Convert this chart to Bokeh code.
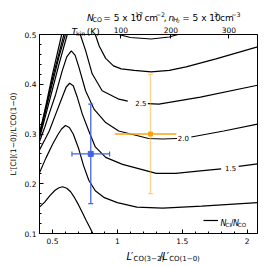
import math
from bokeh.plotting import figure
from bokeh.layouts import column
from bokeh.models import (Range1d, LinearAxis, FixedTicker, SingleIntervalTicker,
                          Legend, LegendItem, ColumnDataSource)
from bokeh.embed import file_html
from bokeh.resources import INLINE
from bokeh.core.properties import value

nan = float("nan")

# ---------------- data ----------------
ratio_05_x = [0.40, 0.44, 0.48, 0.52, 0.55, 0.578, 0.61, 0.64, 0.67, 0.70, 0.73, 0.76, 0.79, 0.82]
ratio_05_y = [0.153, 0.163, 0.176, 0.187, 0.192, 0.194, 0.191, 0.184, 0.172, 0.158, 0.142, 0.126, 0.111, 0.095]

ratio_10_x = [0.40, 0.45, 0.50, 0.54, 0.57, 0.60, 0.63, 0.66, 0.70, 0.74, 0.78, 0.83, 0.90, 1.00, 1.15, 1.35, 1.65, 2.08]
ratio_10_y = [0.222, 0.252, 0.279, 0.298, 0.310, 0.317, 0.313, 0.300, 0.272, 0.236, 0.207, 0.186, 0.172, 0.162, 0.153, 0.151, 0.155, 0.162]

ratio_15_x = [0.40, 0.44, 0.475, 0.525, 0.575, 0.605, 0.632, 0.66, 0.69, 0.73, 0.78, 0.83, 0.91, 1.04, 1.17, 1.30, 1.45, 1.64, 1.80, nan, 1.935, 2.08]
ratio_15_y = [0.268, 0.288, 0.306, 0.340, 0.374, 0.394, 0.402, 0.397, 0.375, 0.340, 0.306, 0.274, 0.253, 0.239, 0.230, 0.221, 0.221, 0.226, 0.230, nan, 0.235, 0.240]

ratio_20_x = [0.40, 0.44, 0.48, 0.525, 0.575, 0.61, 0.645, 0.675, 0.704, 0.755, 0.82, 0.91, 1.01, 1.165, 1.24, 1.35, 1.46, nan, 1.57, 1.82, 2.08]
ratio_20_y = [0.285, 0.313, 0.345, 0.380, 0.427, 0.455, 0.467, 0.458, 0.434, 0.387, 0.350, 0.323, 0.306, 0.296, 0.291, 0.290, 0.291, nan, 0.294, 0.306, 0.320]

ratio_25_x = [0.40, 0.45, 0.50, 0.55, 0.614, 0.665, 0.714, 0.755, 0.806, 0.883, 1.012, 1.08, nan, 1.235, 1.32, 1.64, 2.08]
ratio_25_y = [0.292, 0.340, 0.390, 0.440, 0.500, 0.520, 0.500, 0.468, 0.421, 0.387, 0.370, 0.366, nan, 0.361, 0.360, 0.374, 0.398]

ratio_30_x = [0.40, 0.45, 0.50, 0.55, 0.60, 0.70, 0.83, 0.86, 0.91, 0.97, 1.03, 1.13, 1.26, 1.40, 1.53, 1.76, 2.08]
ratio_30_y = [0.296, 0.349, 0.403, 0.455, 0.500, 0.560, 0.500, 0.477, 0.452, 0.437, 0.431, 0.428, 0.425, 0.428, 0.435, 0.451, 0.475]

ratio_35_x = [0.40, 0.45, 0.50, 0.588, 0.80, 0.98, 1.10, 1.26, 1.40, 1.48, 1.70]
ratio_35_y = [0.299, 0.354, 0.412, 0.500, 0.600, 0.502, 0.494, 0.491, 0.495, 0.501, 0.520]

ratio_40_x = [0.40, 0.45, 0.50, 0.571, 0.70]
ratio_40_y = [0.301, 0.358, 0.420, 0.500, 0.650]

label_x = [1.181, 1.508, 1.873]
label_y = [0.362, 0.292, 0.232]
label_text = ["2.5", "2.0", "1.5"]

blue_x = [0.795]
blue_y = [0.26]
blue_xerr = [0.145]
blue_yerr = [0.10]

orange_x = [1.255]
orange_y = [0.30]
orange_xerr_lo = [0.275]
orange_xerr_hi = [0.20]
orange_yerr = [0.12]

tkin_tick_pos = [1.027, 1.412, 1.86]
tkin_tick_labels = ["100", "200", "300"]

y_axis_title = "L\u2032[CI](1\u22120)/L\u2032CO(1\u22120)"

# ---------------- layout ----------------
W, H = 266, 266
FL, FR, FT, FB = 39, 9, 34, 33
X0, X1, Y0, Y1 = 0.4, 2.08, 0.1, 0.5
FONT = "DejaVu Sans"

p = figure(width=W, height=H, x_range=Range1d(X0, X1), y_range=Range1d(Y0, Y1),
           output_backend="svg", toolbar_location=None,
           min_border_left=FL, min_border_right=FR, min_border_top=FT, min_border_bottom=FB)
p.title.visible = False
p.grid.visible = False
p.outline_line_color = "black"
p.outline_line_width = 1
p.background_fill_color = "white"
p.border_fill_color = "white"

p.xaxis.ticker = SingleIntervalTicker(interval=0.5, num_minor_ticks=5)
p.yaxis.ticker = SingleIntervalTicker(interval=0.1, num_minor_ticks=5)
for ax in (p.xaxis[0], p.yaxis[0]):
    ax.major_tick_in = 4
    ax.major_tick_out = 0
    ax.minor_tick_in = 2
    ax.minor_tick_out = 0
    ax.axis_line_color = "black"
    ax.major_label_text_font = FONT
    ax.major_label_text_font_size = "7.5px"
    ax.major_label_text_color = "black"
p.xaxis.major_label_standoff = 4
p.yaxis.major_label_standoff = 3
p.yaxis.axis_label = y_axis_title
p.yaxis.axis_label_text_font = FONT
p.yaxis.axis_label_text_font_size = "7.6px"
p.yaxis.axis_label_text_font_style = "normal"
p.yaxis.axis_label_text_color = "black"
p.yaxis.axis_label_standoff = 4

top = LinearAxis(ticker=FixedTicker(ticks=tkin_tick_pos, minor_ticks=[]),
                 major_label_overrides={pos: lab for pos, lab in zip(tkin_tick_pos, tkin_tick_labels)})
top.major_tick_in = 4
top.major_tick_out = 0
top.minor_tick_in = 0
top.minor_tick_out = 0
top.major_label_text_font = FONT
top.major_label_text_font_size = "7.5px"
top.major_label_text_color = "black"
top.major_label_standoff = 2
p.add_layout(top, "above")

# ---------------- curves ----------------
curves = [(ratio_05_x, ratio_05_y), (ratio_10_x, ratio_10_y), (ratio_15_x, ratio_15_y),
          (ratio_20_x, ratio_20_y), (ratio_25_x, ratio_25_y), (ratio_30_x, ratio_30_y),
          (ratio_35_x, ratio_35_y), (ratio_40_x, ratio_40_y)]
renderers = []
for cx, cy in curves:
    renderers.append(p.line(cx, cy, line_color="black", line_width=1.2))

p.text(x=label_x, y=label_y, text=label_text, text_font=value(FONT), text_font_size=value("7px"),
       text_align="center", text_baseline="middle", text_color="black")

# ---------------- error bars ----------------
BLUE = "#3f63e4"
ORANGE = "#ffa20f"
bx0 = [x - e for x, e in zip(blue_x, blue_xerr)]
bx1 = [x + e for x, e in zip(blue_x, blue_xerr)]
by0 = [y - e for y, e in zip(blue_y, blue_yerr)]
by1 = [y + e for y, e in zip(blue_y, blue_yerr)]
p.segment(x0=blue_x, y0=by0, x1=blue_x, y1=by1, line_color=BLUE, line_width=1.4, line_alpha=0.9)
p.segment(x0=bx0, y0=blue_y, x1=bx1, y1=blue_y, line_color=BLUE, line_width=1.4)
p.scatter(x=bx0 + bx1, y=blue_y * 2, marker="dash", angle=math.pi / 2, size=5,
          line_color=BLUE, line_width=1.2)
p.scatter(x=blue_x * 2, y=by0 + by1, marker="dash", size=5, line_color=BLUE, line_width=1.2)
p.scatter(x=blue_x, y=blue_y, marker="square", size=5, fill_color=BLUE, line_color=BLUE)

ox0 = [x - e for x, e in zip(orange_x, orange_xerr_lo)]
ox1 = [x + e for x, e in zip(orange_x, orange_xerr_hi)]
oy0 = [y - e for y, e in zip(orange_y, orange_yerr)]
oy1 = [y + e for y, e in zip(orange_y, orange_yerr)]
p.segment(x0=orange_x, y0=oy0, x1=orange_x, y1=oy1, line_color=ORANGE, line_width=1.4, line_alpha=0.45)
p.scatter(x=orange_x * 2, y=oy0 + oy1, marker="dash", size=5, line_color=ORANGE, line_width=1.2,
          line_alpha=0.45)
p.segment(x0=ox0, y0=orange_y, x1=ox1, y1=orange_y, line_color=ORANGE, line_width=1.4)
p.scatter(x=orange_x, y=orange_y, marker="square", size=4, fill_color=ORANGE, line_color=ORANGE)

# ---------------- legend sample ----------------
leg = Legend(items=[LegendItem(label=" ", renderers=[renderers[0]])], location=(164, 11),
             glyph_width=15, glyph_height=4, label_height=4, label_width=0, label_standoff=0,
             label_text_font_size="1px", padding=0, margin=0, spacing=0,
             border_line_alpha=0, background_fill_alpha=0)
p.add_layout(leg)

# ---------------- overlay for texts outside the plot box ----------------
q = figure(width=W, height=H, x_range=Range1d(0, W), y_range=Range1d(0, H),
           output_backend="svg", toolbar_location=None,
           x_axis_location=None, y_axis_location=None,
           min_border_left=0, min_border_right=0, min_border_top=0, min_border_bottom=0)
q.title.visible = False
q.grid.visible = False
q.outline_line_color = None
q.background_fill_alpha = 0
q.border_fill_alpha = 0
q.margin = (-H, 0, 0, 0)

ADV = {c: 0.636 for c in "0123456789"}
ADV.update({" ": 0.318, "\u00a0": 0.318, ".": 0.318, ",": 0.318, "=": 0.838, "x": 0.592,
            "c": 0.550, "m": 0.974, "n": 0.634, "k": 0.579, "i": 0.278, "N": 0.748, "C": 0.698,
            "O": 0.787, "H": 0.752, "I": 0.295, "L": 0.557, "T": 0.611, "K": 0.656,
            "(": 0.390, ")": 0.390, "[": 0.390, "]": 0.390, "/": 0.337, "\u2032": 0.30,
            "\u2212": 0.838})
STYLE = {  # scale, baseline shift (+ = down, in main size), italic, extra space after
    "r": (1.0, 0.0, "normal", 0.0),
    "i": (1.0, 0.0, "italic", 0.0),
    "sb": (0.7, 0.22, "normal", 0.1),
    "isb": (0.7, 0.22, "italic", 0.0),
    "ssb": (0.49, 0.36, "normal", 0.06),
    "sp": (0.7, -0.42, "normal", 0.08),
}
hpieces = dict(x=[], y=[], text=[], size=[], style=[])


def seg_w(t, size):
    return sum(ADV.get(ch, 0.6) for ch in t) * size


def rich(segs, px, py, size, align="left"):
    """Queue text pieces; px, py are pixel positions from the top-left of the page."""
    total = sum(seg_w(t, size * STYLE[k][0]) + STYLE[k][3] * size for t, k in segs)
    adv = -total / 2 if align == "center" else 0.0
    for t, k in segs:
        sc, sh, st, gap = STYLE[k]
        w = seg_w(t, size * sc)
        lead = len(t) - len(t.lstrip(" "))
        body = t.strip(" ")
        a = adv + seg_w(" " * lead, size * sc)
        if body:
            hpieces["x"].append(px + a)
            hpieces["y"].append(H - (py + sh * size))
            hpieces["text"].append(body.replace(" ", "\u00a0"))
            hpieces["size"].append(f"{size * sc:.2f}px")
            hpieces["style"].append(st)
        adv += w + gap * size


title_segs = [("N", "i"), ("CO", "sb"), (" = 5 x 10", "r"), ("17", "sp"), (" cm", "r"),
              ("\u22122", "sp"), (", ", "r"), ("n", "i"), ("H", "isb"), ("2", "ssb"),
              (" = 5 x 10", "r"), ("3", "sp"), (" cm", "r"), ("\u22123", "sp")]
rich(title_segs, 151, 17.3, 9, align="center")

xlab_segs = [("L", "i"), ("\u2032", "r"), ("CO(3\u22122)", "sb"), ("/", "r"), ("L", "i"),
             ("\u2032", "r"), ("CO(1\u22120)", "sb")]
rich(xlab_segs, 148, 256, 10, align="center")

rich([("T", "i"), ("kin", "sb"), (" (K)", "r")], 39, 31.3, 9)

rich([("N", "i"), ("CI", "sb"), ("/", "r"), ("N", "i"), ("CO", "sb")], 221, 222.8, 8)

q.text(x="x", y="y", text="text", text_font_size="size", text_font_style="style",
       source=ColumnDataSource(hpieces), text_font=value(FONT),
       text_align="left", text_baseline="alphabetic", text_color="black")

layout = column(p, q, spacing=0)
open("out.html", "w").write(file_html(layout, INLINE))
